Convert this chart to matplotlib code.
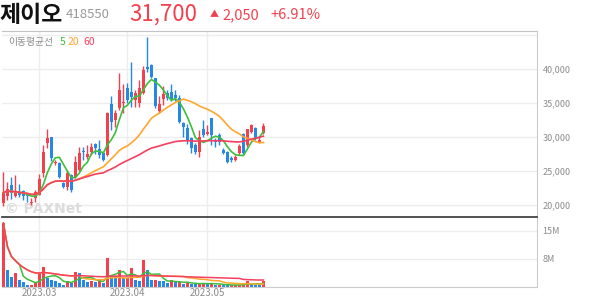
import numpy as np
import pandas as pd
import matplotlib.pyplot as plt

plt.rcParams['font.family'] = ['Noto Sans CJK KR', 'DejaVu Sans']

# ---- daily candles (KRW) ----
opens = [20300, 21400, 23000, 21400, 21900, 22100, 21500, 20300, 21050, 21500,
         24700, 29100, 30100, 26200, 26200, 23270, 22740, 24460, 24200, 25200,
         28030, 27150, 27880, 29020, 28240, 27650, 27400, 34900, 32540, 34260,
         35100, 37200, 36700, 35480, 35000, 36470, 40400, 40630, 38670, 33900,
         35590, 36470, 36700, 36200, 35730, 32060, 31400, 29900, 28870, 27880,
         31220, 30440, 32790, 29600, 30300, 28130, 27880, 27000, 26700, 27650,
         30490, 28870, 30820, 31320, 29300, 30600]
highs = [24900, 23500, 24200, 24400, 23200, 22250, 21800, 21050, 22250, 24600,
         28900, 31200, 30100, 26600, 26400, 23500, 25200, 24600, 27200, 28500,
         28600, 28900, 29100, 29200, 29600, 28000, 33700, 36000, 34000, 39400,
         37900, 38000, 41100, 36900, 38400, 40500, 44800, 40800, 38700, 36000,
         37500, 36900, 37800, 37000, 36200, 32300, 31900, 30100, 29200, 31000,
         32500, 31800, 32900, 29900, 30700, 28400, 28000, 27300, 27400, 29000,
         30600, 31200, 31900, 31500, 30100, 32100]
lows = [19900, 20800, 21000, 21200, 21250, 20800, 20500, 20050, 20550, 21500,
        24200, 28400, 26500, 25900, 24000, 22500, 22200, 22000, 23970, 25000,
        26700, 26800, 27400, 27600, 26900, 26500, 27300, 31070, 31500, 34000,
        33600, 35000, 34500, 34500, 34400, 36300, 39650, 38700, 34300, 33500,
        34800, 35500, 35300, 35400, 32100, 30090, 29000, 27650, 27600, 27100,
        30000, 30300, 28870, 28600, 28900, 27600, 26200, 26300, 26500, 27400,
        27400, 28600, 30600, 29600, 29200, 30500]
closes = [21850, 22400, 21800, 22000, 21500, 21400, 21300, 20550, 21900, 23900,
          27800, 29950, 26900, 26400, 24200, 22740, 24750, 22250, 26400, 27650,
          27800, 27550, 28530, 28380, 27400, 26660, 33530, 32290, 33620, 36950,
          35230, 35480, 35970, 36500, 37200, 39900, 40000, 38910, 34600, 34900,
          36370, 35730, 35600, 35800, 32290, 31560, 29600, 28430, 27880, 30000,
          30340, 30820, 30340, 29300, 29300, 27740, 26410, 26700, 27100, 28770,
          27650, 31180, 31800, 29850, 29650, 31700]
# volume in millions of shares
volumes_m = [17.1, 4.6, 2.8, 3.7, 1.9, 1.3, 0.6, 0.65, 1.2, 3.7,
             5.4, 2.5, 1.9, 1.6, 1.1, 0.6, 1.6, 1.2, 4.0, 3.8,
             1.9, 1.4, 1.6, 1.3, 2.1, 1.1, 7.8, 3.1, 3.0, 4.6,
             2.3, 2.4, 5.2, 1.8, 1.5, 7.3, 4.6, 1.8, 2.0, 1.7,
             1.5, 1.0, 1.8, 1.3, 1.4, 0.9, 1.0, 0.9, 0.7, 1.0,
             1.1, 0.8, 0.9, 0.6, 0.65, 0.5, 0.45, 0.5, 0.6, 0.65,
             0.7, 1.5, 0.7, 0.65, 0.6, 1.5]

month_ticks = [9, 31, 51]
month_labels = ['2023.03', '2023.04', '2023.05']
price_ticks = [20000, 25000, 30000, 35000, 40000, 45000]
vol_ticks = [7.5, 15]
ma_periods = [5, 20, 60]

df = pd.DataFrame({'open': opens, 'high': highs, 'low': lows,
                   'close': closes, 'vol': volumes_m})
x = np.arange(len(df))

UP = '#F2404E'
DOWN = '#2588E6'
MA_COLORS = {5: '#3CBF3C', 20: '#FFA62E', 60: '#F53F5E'}
GRID = '#ededed'
TEXT = '#8c8c8c'

W, H = 594, 304
fig = plt.figure(figsize=(W / 100, H / 100), dpi=100)


def fx(px):
    return px / W


def fy(py):
    return 1 - py / H


ax = fig.add_axes([fx(2), fy(217), fx(537) - fx(2), fy(31) - fy(217)])
axv = fig.add_axes([fx(2), fy(287), fx(537) - fx(2), fy(217) - fy(287)], sharex=ax)

# ---- price panel ----
up = df['close'] >= df['open']
colors = np.where(up, UP, DOWN)
ax.vlines(x, df['low'], df['high'], colors=colors, linewidth=1, zorder=2)
body_low = np.minimum(df['open'], df['close'])
body_h = np.maximum((df['close'] - df['open']).abs(), 60)
ax.bar(x, body_h, bottom=body_low, width=0.72, color=colors, linewidth=0, zorder=3)

for p in ma_periods:
    ma = df['close'].rolling(p, min_periods=1).mean()
    ax.plot(x, ma, color=MA_COLORS[p], linewidth=1.2, zorder=4)

ax.set_xlim(-0.35, 133.4)
ax.set_ylim(18280, 45630)
ax.set_yticks(price_ticks[:-1])
ax.set_yticklabels([f'{v:,}' for v in price_ticks[:-1]])
for v in price_ticks:
    ax.axhline(v, color=GRID, linewidth=1, zorder=0)
for t in month_ticks:
    ax.axvline(t, color=GRID, linewidth=1, zorder=0)
ax.yaxis.tick_right()
ax.tick_params(axis='y', length=0, labelsize=6.5, labelcolor=TEXT, pad=4)
ax.tick_params(axis='x', length=0, labelbottom=False)
for s in ['left', 'bottom']:
    ax.spines[s].set_visible(False)
ax.spines['right'].set_color('#cccccc')
ax.spines['top'].set_color('#c4c4c4')

# watermark
ax.text(0.006, 0.02, '© PAXNet', transform=ax.transAxes, fontsize=10,
        fontweight='bold', color='#dcdcdc', family=['DejaVu Sans'], zorder=1)

# ---- volume panel ----
vol_up = df['vol'].diff().fillna(1) >= 0
axv.bar(x, df['vol'], width=0.72, color=np.where(vol_up, UP, DOWN), linewidth=0, zorder=2)
for p in ma_periods:
    ma = df['vol'].rolling(p, min_periods=1).mean()
    axv.plot(x, ma, color=MA_COLORS[p], linewidth=1.1, zorder=3)

axv.set_ylim(0, 18.75)
axv.set_yticks(vol_ticks)
axv.set_yticklabels([f'{v:.0f}M' for v in vol_ticks])
for v in vol_ticks:
    axv.axhline(v, color=GRID, linewidth=1, zorder=0)
for t in month_ticks:
    axv.axvline(t, color=GRID, linewidth=1, zorder=0)
axv.yaxis.tick_right()
axv.tick_params(axis='y', length=0, labelsize=6.5, labelcolor=TEXT, pad=4)
axv.set_xticks(month_ticks)
axv.set_xticklabels(month_labels)
axv.tick_params(axis='x', length=0, labelsize=7, labelcolor=TEXT, pad=1)
axv.spines['left'].set_visible(False)
axv.spines['top'].set_color('#444444')
axv.spines['top'].set_linewidth(1.3)
axv.spines['right'].set_color('#cccccc')
axv.spines['bottom'].set_color('#cccccc')

# ---- header ----
fig.text(fx(0), fy(15), '제이오', fontsize=16.5, fontweight='bold', color='#111111', va='center')
fig.text(fx(66), fy(15), '418550', fontsize=9.5, color='#999999', va='center')
fig.text(fx(129), fy(14), '31,700', fontsize=16, color=UP, va='center')
fig.text(fx(210), fy(15), '▲', fontsize=6.5, color=UP, va='center')
fig.text(fx(222), fy(15), '2,050', fontsize=10.5, color=UP, va='center')
fig.text(fx(270), fy(15), '+6.91%', fontsize=10.5, color=UP, va='center')

# moving average legend
fig.text(fx(8), fy(42), '이동평균선', fontsize=7, color=TEXT, va='center')
fig.text(fx(60), fy(42), '5', fontsize=7.5, color=MA_COLORS[5], va='center')
fig.text(fx(68), fy(42), '20', fontsize=7.5, color=MA_COLORS[20], va='center')
fig.text(fx(83), fy(42), '60', fontsize=7.5, color=MA_COLORS[60], va='center')

fig.savefig('out.png', dpi=100)
